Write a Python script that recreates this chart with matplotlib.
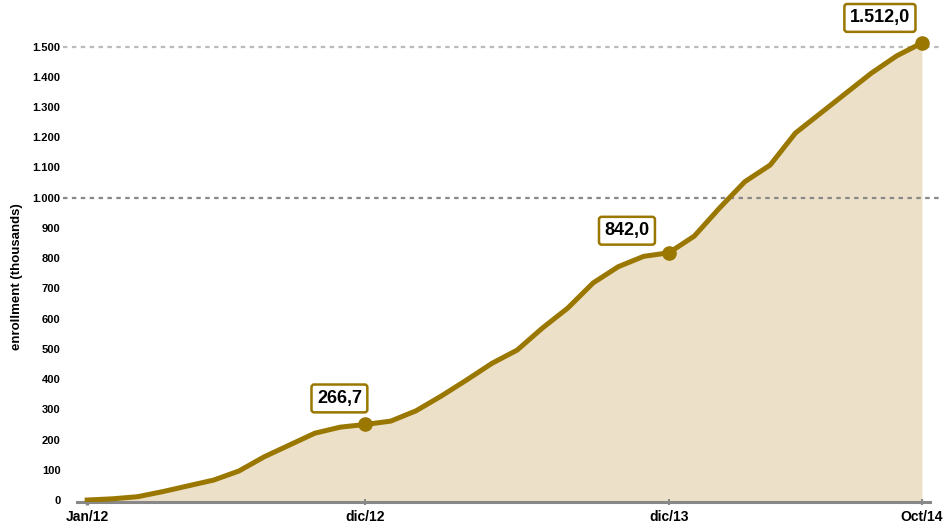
import matplotlib
matplotlib.use("Agg")
import matplotlib.pyplot as plt
from matplotlib import font_manager

# monthly enrollment (thousands), Jan/12 .. Oct/14
months = list(range(34))
enrollment = [0, 4, 11, 28, 47, 66, 96, 143, 182, 221, 241, 250, 261, 295, 344,
              397, 452, 496, 569, 635, 718, 772, 806, 818, 873, 966, 1053, 1108,
              1214, 1280, 1346, 1412, 1469, 1512]
tick_pos = [0, 11, 23, 33]
tick_labels = ["Jan/12", "dic/12", "dic/13", "Oct/14"]
y_ticks = list(range(0, 1600, 100))
ref_lines = [1000, 1500]
callout_idx = [11, 23, 33]
callout_text = ["266,7", "842,0", "1.512,0"]

# pick a narrow bold face if there is one
names = {f.name for f in font_manager.fontManager.ttflist}
font = "Liberation Sans Narrow" if "Liberation Sans Narrow" in names else "Liberation Sans"
plt.rcParams["font.family"] = [font, "DejaVu Sans"]
plt.rcParams["font.weight"] = "bold"

gold = "#997700"
fill_col = "#ece0c8"

fig = plt.figure(figsize=(9.43, 5.26), dpi=100)
ax = fig.add_axes([0.0817, 0.0456, 0.904, 0.9544])

ybot = -6.6
ax.fill_between(months, enrollment, ybot, color=fill_col, lw=0, zorder=1)
ax.plot(months, enrollment, color=gold, lw=3.6, solid_joinstyle="round", zorder=3)

# dotted reference lines, running past the axes on both sides
ax.axhline(ref_lines[0], xmin=-0.016, xmax=1.02, color="#888888", lw=1.6,
           ls=(0, (2, 2)), clip_on=False, zorder=2)
ax.axhline(ref_lines[1], xmin=-0.016, xmax=1.02, color="#bbbbbb", lw=1.6,
           ls=(0, (2, 2)), clip_on=False, zorder=2)

offsets = [(-26, 26), (-42, 22), (-42, 25)]
for i, txt, off in zip(callout_idx, callout_text, offsets):
    ax.plot(months[i], enrollment[i], "o", color=gold, ms=9.5, zorder=4, clip_on=False)
    ax.annotate(txt, (months[i], enrollment[i]), xytext=off, textcoords="offset pixels",
                ha="center", va="center", fontsize=13, fontweight="bold", color="black",
                bbox=dict(boxstyle="round,pad=0.3,rounding_size=0.15", fc="white",
                          ec=gold, lw=1.8), zorder=5)

ax.set_xlim(-0.4, 33.3)
ax.set_ylim(ybot, 1654)

ax.set_xticks(tick_pos)
ax.set_xticklabels(tick_labels, fontsize=10, fontweight="bold")
ax.tick_params(axis="x", direction="inout", length=5, width=1.5, color="#888888", pad=3)
ax.get_xticklines()[0].set_color("black")
ax.get_xticklines()[0].set_markeredgewidth(2.5)

ax.set_yticks(y_ticks)
ax.set_yticklabels([f"{v:,}".replace(",", ".") for v in y_ticks], fontsize=8, fontweight="bold")
ax.tick_params(axis="y", length=0, pad=12)
ax.set_ylabel("enrollment (thousands)", fontsize=9.5, fontweight="bold")
ax.yaxis.set_label_coords(-0.0633, 0.448)

for s in ["top", "right", "left"]:
    ax.spines[s].set_visible(False)
ax.spines["bottom"].set_color("#888888")
ax.spines["bottom"].set_linewidth(2.2)
ax.spines["bottom"].set_zorder(2)
ax.patch.set_alpha(0)

fig.savefig("out.png", dpi=100)
